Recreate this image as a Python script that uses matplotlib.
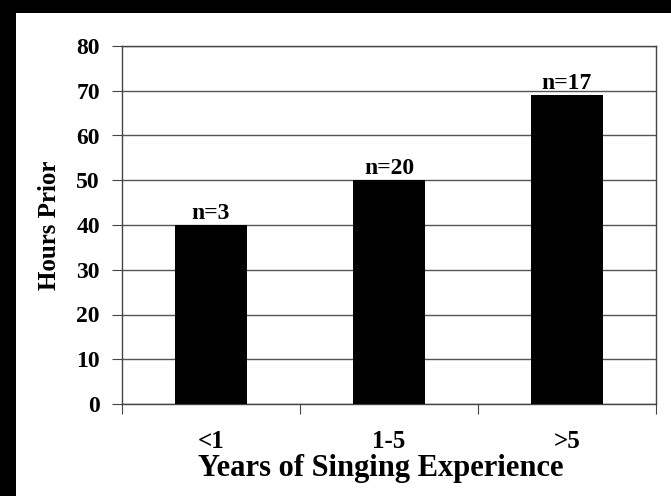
import matplotlib
matplotlib.use("Agg")
import matplotlib.pyplot as plt
from matplotlib.patches import Rectangle

# data
categories = ["<1", "1-5", ">5"]
hours_prior = [40, 50, 69]
n_labels = ["n=3", "n=20", "n=17"]
y_ticks = [0, 10, 20, 30, 40, 50, 60, 70, 80]

plt.rcParams["font.family"] = ["Liberation Serif", "DejaVu Serif"]
plt.rcParams["font.weight"] = "bold"

fig = plt.figure(figsize=(6.71, 4.96), dpi=100, facecolor="black")
# white page area (scan has black edges on the left and top)
fig.patches.append(Rectangle((16 / 671, 0), 1, (496 - 13) / 496,
                             transform=fig.transFigure, facecolor="white",
                             edgecolor="none", zorder=-10))

ax = fig.add_axes([122 / 671, 1 - 404 / 496, (656 - 122) / 671, (404 - 46) / 496])
ax.set_facecolor("white")

x = list(range(len(categories)))
bars = ax.bar(x, hours_prior, width=0.41, color="black", zorder=3)

for b, lab in zip(bars, n_labels):
    ax.text(b.get_x() + b.get_width() / 2, b.get_height() + 0.2, lab,
            ha="center", va="bottom", fontsize=17, fontweight="bold", zorder=4)

ax.set_xlim(-0.5, 2.5)
ax.set_ylim(0, 80)
ax.set_yticks(y_ticks)
ax.yaxis.grid(True, color="#555555", linewidth=1.0, zorder=1)

# boundary ticks on x, category names as minor ticks
ax.set_xticks([-0.5, 0.5, 1.5, 2.5])
ax.set_xticklabels([])
ax.set_xticks(x, minor=True)
ax.set_xticklabels(categories, minor=True, fontsize=18, fontweight="bold")
ax.tick_params(axis="x", which="minor", length=0, pad=19)
ax.tick_params(axis="x", which="major", direction="out", length=7, color="#444444")
ax.tick_params(axis="y", direction="out", length=7, color="#444444",
               labelsize=17, pad=9)
for lbl in ax.get_yticklabels():
    lbl.set_fontweight("bold")

for s in ax.spines.values():
    s.set_color("#444444")
    s.set_linewidth(1.0)

ax.set_xlabel("Years of Singing Experience", fontsize=22, fontweight="bold")
ax.set_ylabel("Hours Prior", fontsize=18, fontweight="bold")
ax.xaxis.set_label_coords(0.485, -0.14)
ax.yaxis.set_label_coords(-0.115, 0.5)

fig.savefig("out.png", dpi=100, facecolor="black")
